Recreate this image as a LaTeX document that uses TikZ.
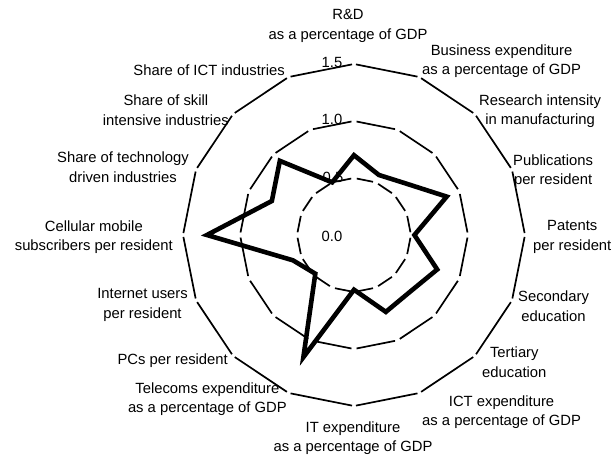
\documentclass[tikz,border=0pt]{standalone}
\usepackage{fontspec}
\setmainfont{Liberation Sans}
\begin{document}
\begin{tikzpicture}[x=1pt,y=1pt,
  lbl/.style={font=\fontsize{14.8}{19.5}\selectfont, align=center, inner sep=0pt},
  tick/.style={font=\fontsize{14.8}{18}\selectfont, inner sep=0pt},
  ringline/.style={line width=1.7pt, shorten <=#1, shorten >=#1},
  series/.style={line width=4.6pt, line join=miter, miter limit=12}]
\useasboundingbox (0,0) rectangle (613,-456);
\fill[white] (0,0) rectangle (613,-456);

% radar grid and data, centred on the chart origin; one unit = 114pt
\begin{scope}[shift={(354,-235)}]
  \foreach \i in {0,...,15} {
    \pgfmathsetmacro\ang{90-22.5*\i}
    \coordinate (ra-\i) at (\ang:57);
    \coordinate (rb-\i) at (\ang:114);
    \coordinate (rc-\i) at (\ang:171);
  }
  % rings at 0.5, 1.0 and 1.5: one stroke per edge, gaps at the corners
  \foreach \i in {0,...,15} {
    \pgfmathtruncatemacro\j{mod(\i+1,16)}
    \draw[ringline=2.8pt] (ra-\i) -- (ra-\j);
    \draw[ringline=2.6pt] (rb-\i) -- (rb-\j);
    \draw[ringline=2pt]   (rc-\i) -- (rc-\j);
  }
  % indicator values, clockwise from R&D
  \foreach \v [count=\k from 0] in {0.70,0.57,0.64,0.88,0.53,0.79,0.70,0.73,
                                    0.48,1.16,0.48,0.58,1.29,0.78,0.92,0.50} {
    \coordinate (d\k) at ({90-22.5*\k}:{\v*114});
  }
  \draw[series] (d0) \foreach \k in {1,...,15} { -- (d\k) } -- cycle;
\end{scope}

% scale values
\node[tick] (t15) at (332,-62.5) {1.5};
\node[tick] (t10) at (332,-119.5) {1.0};
\node[tick] (t05) at (333,-177) {0.5};
\node[tick] (t00) at (332,-236) {0.0};

% axis labels
\node[lbl] (lRD) at (348,-26) {R\&D\\as a percentage of GDP};
\node[lbl, anchor=west] (lBus) at (422,-61) {Business expenditure\\as a percentage of GDP};
\node[lbl, anchor=west] (lRes) at (479,-111) {Research intensity\\in manufacturing};
\node[lbl, anchor=west] (lPub) at (513,-171) {Publications\\per resident};
\node[lbl, anchor=west] (lPat) at (533,-237) {Patents\\per resident};
\node[lbl, anchor=west] (lSec) at (518,-306) {Secondary\\education};
\node[lbl, anchor=west] (lTer) at (482,-362) {Tertiary\\education};
\node[lbl, anchor=west] (lICT) at (422,-412) {ICT expenditure\\as a percentage of GDP};
\node[lbl] (lIT) at (353,-438) {IT expenditure\\as a percentage of GDP};
\node[lbl, anchor=east] (lTel) at (287,-399) {Telecoms expenditure\\as a percentage of GDP};
\node[lbl, anchor=east] (lPC) at (228,-361) {PCs per resident};
\node[lbl, anchor=east] (lInt) at (188,-305) {Internet users\\per resident};
\node[lbl, anchor=east] (lCell) at (173,-237) {Cellular mobile\\subscribers per resident};
\node[lbl, anchor=east] (lTech) at (189,-167) {Share of technology\\driven industries};
\node[lbl, anchor=east] (lSkill) at (229,-110) {Share of skill\\intensive industries};
\node[lbl, anchor=east] (lShICT) at (285,-70) {Share of ICT industries};
\end{tikzpicture}
\end{document}
